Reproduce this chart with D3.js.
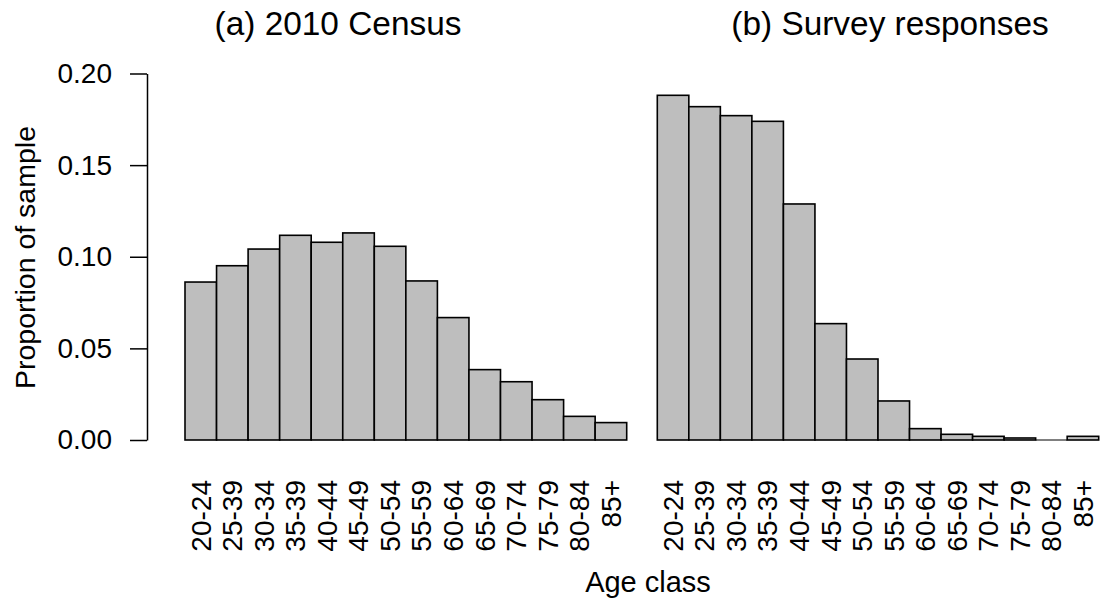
<!DOCTYPE html>
<html>
<head>
<meta charset="utf-8">
<script src="https://cdn.jsdelivr.net/npm/d3@7"></script>
<style>
  body { margin: 0; background: #fff; }
  text { font-family: "Liberation Sans", Arial, sans-serif; fill: #000; }
</style>
</head>
<body>
<div id="chart"></div>
<script>
// age classes (labels as printed in the original)
var ageClasses = ["20-24","25-39","30-34","35-39","40-44","45-49","50-54","55-59","60-64","65-69","70-74","75-79","80-84","85+"]
var censusProp = [0.0862,0.0951,0.1042,0.1117,0.1079,0.1130,0.1057,0.0868,0.0668,0.0384,0.0318,0.0220,0.0129,0.0095]
var surveyProp = [0.1881,0.1819,0.1770,0.1739,0.1288,0.0635,0.0442,0.0213,0.0062,0.0031,0.0020,0.0011,0.0000,0.0020]
var yTicks = [0, 0.05, 0.10, 0.15, 0.20]
var panelTitles = ["(a) 2010 Census", "(b) Survey responses"]

var W = 1107, H = 600

var svg = d3.select("#chart").append("svg")
  .attr("width", W)
  .attr("height", H)

var y = d3.scaleLinear().domain([0, 0.2]).range([440, 73.5])

// y axis (only on the left panel)
var yAxis = d3.axisLeft(y)
  .tickValues(yTicks)
  .tickFormat(d3.format(".2f"))
  .tickSize(17)
  .tickSizeOuter(0)
  .tickPadding(18)

var gy = svg.append("g")
  .attr("transform", "translate(147,0)")
  .call(yAxis)
gy.select(".domain").attr("stroke", "#000").attr("stroke-width", 1.5)
gy.selectAll(".tick line").attr("stroke", "#000").attr("stroke-width", 1.5)
gy.selectAll(".tick text").style("font-size", "28px").attr("fill", "#000")
  .style("font-family", "Liberation Sans, Arial, sans-serif")

svg.append("text")
  .attr("transform", "translate(35,257.5) rotate(-90)")
  .attr("text-anchor", "middle")
  .style("font-size", "28.5px")
  .text("Proportion of sample")

// panels
var panels = [
  {data: censusProp, x0: 185, x1: 626.7, titleX: 338},
  {data: surveyProp, x0: 657.3, x1: 1098.7, titleX: 890}
]

function drawPanel(p, idx)
{
  var x = d3.scaleBand()
    .domain(ageClasses)
    .range([p.x0, p.x1])
    .paddingInner(0)
    .paddingOuter(0)

  var g = svg.append("g").attr("class", "panel" + idx)

  g.selectAll("rect")
    .data(p.data)
    .enter()
    .append("rect")
    .attr("x", function(d, i) { return x(ageClasses[i]) })
    .attr("y", function(d) { return y(d) })
    .attr("width", x.bandwidth())
    .attr("height", function(d) { return y(0) - y(d) })
    .attr("fill", "#bebebe")
    .attr("stroke", "#000")
    .attr("stroke-width", 1.6)

  // zero-height bars still show as a thin line
  g.selectAll("line.zero")
    .data(p.data.map(function(d, i) { return {v: d, k: ageClasses[i]} })
      .filter(function(d) { return d.v == 0 }))
    .enter()
    .append("line")
    .attr("class", "zero")
    .attr("x1", function(d) { return x(d.k) })
    .attr("x2", function(d) { return x(d.k) + x.bandwidth() })
    .attr("y1", y(0))
    .attr("y2", y(0))
    .attr("stroke", "#000")
    .attr("stroke-width", 1)

  // rotated category labels
  g.selectAll("text.lab")
    .data(ageClasses)
    .enter()
    .append("text")
    .attr("class", "lab")
    .attr("transform", function(d) {
      return "translate(" + (x(d) + x.bandwidth() / 2) + ",480) rotate(-90)"
    })
    .attr("text-anchor", "end")
    .attr("dy", "0.35em")
    .style("font-size", "28px")
    .text(function(d) { return d })

  svg.append("text")
    .attr("x", p.titleX)
    .attr("y", 35)
    .attr("text-anchor", "middle")
    .style("font-size", "33.4px")
    .text(panelTitles[idx])
}

panels.forEach(drawPanel)

svg.append("text")
  .attr("x", 648)
  .attr("y", 592)
  .attr("text-anchor", "middle")
  .style("font-size", "29px")
  .text("Age class")
</script>
</body>
</html>
